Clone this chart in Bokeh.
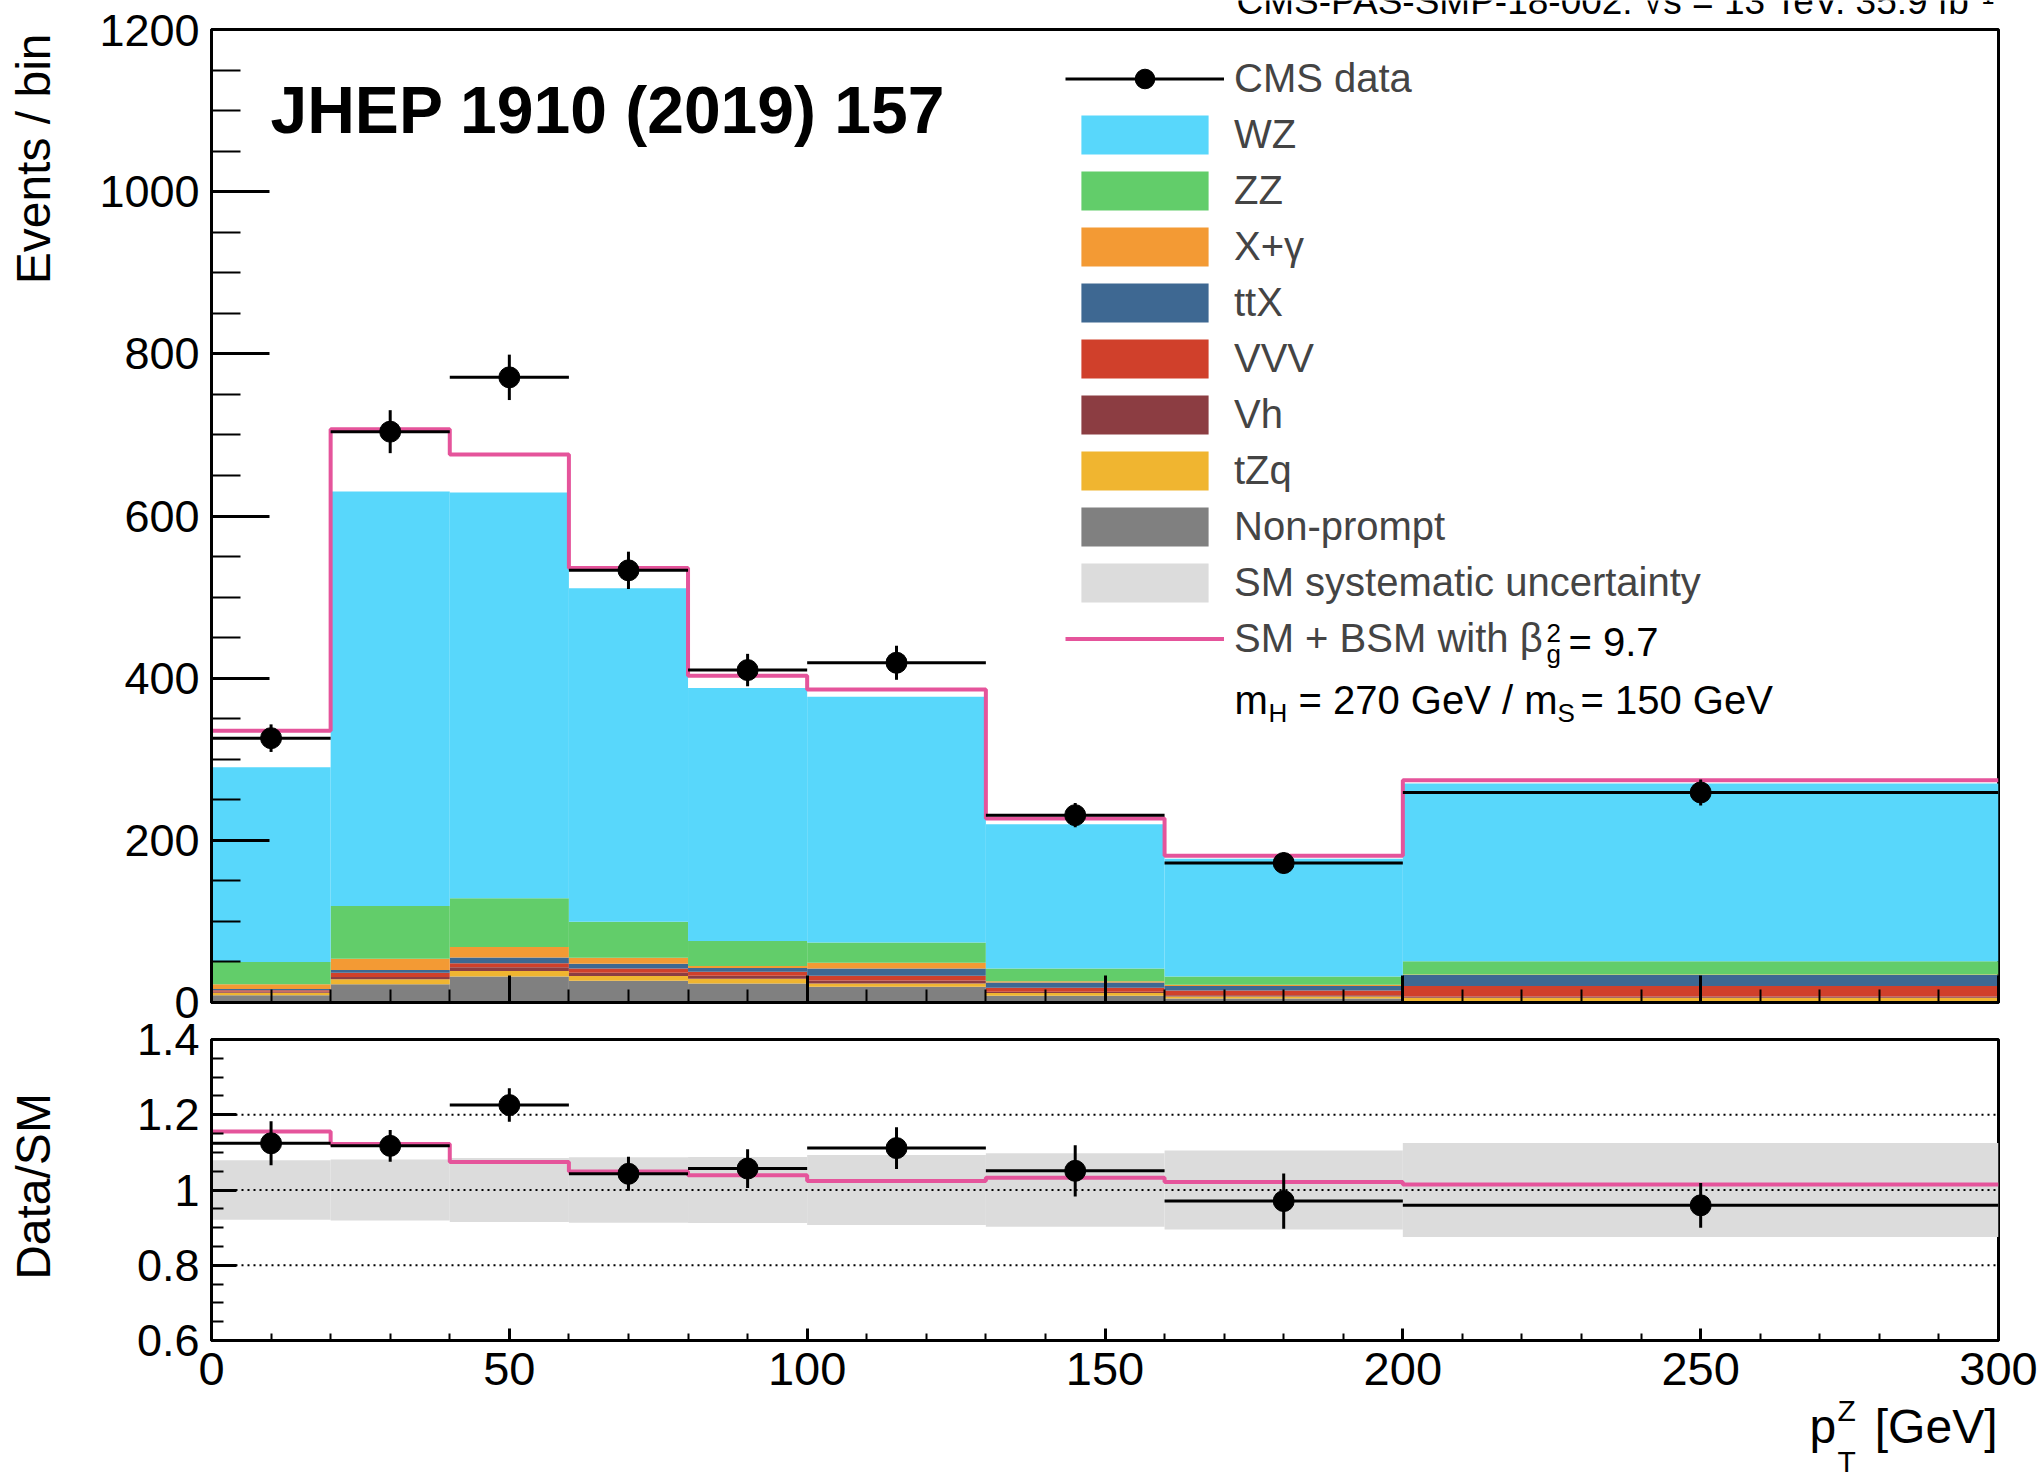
import numpy as np
from bokeh.plotting import figure
from bokeh.layouts import column, row
from bokeh.models import (ColumnDataSource, Legend, LegendItem, Label, Span,
                          FixedTicker, Range1d, PrintfTickFormatter)
from bokeh.embed import file_html
from bokeh.resources import INLINE

# ---------------- data ----------------
bin_edges = [0, 20, 40, 60, 80, 100, 130, 160, 200, 300]
data = [326, 704, 771, 533, 410, 419, 231, 172, 259]
data_err = [17, 26.5, 28, 23, 20, 21, 15, 13, 16]
wz = [240, 511, 500.5, 411.5, 312, 303, 178, 145, 219]
zz = [27.5, 65, 60, 44.3, 31, 25, 15.6, 10.2, 16.5]
xgamma = [6, 14, 13, 7.5, 2.5, 7, 1.5, 1.5, 0.5]
ttx = [1.5, 3.5, 7, 5.7, 4.5, 9, 6.5, 5.7, 13.5]
vvv = [1.5, 5, 5, 5.3, 5, 6, 5, 5.8, 13]
vh = [1.5, 3, 4.5, 4, 3.5, 3.6, 1.5, 1.6, 1.5]
tzq = [3, 6, 7, 6, 6, 4.1, 3.5, 2.5, 4]
nonprompt = [9, 22.6, 32, 26.7, 23.4, 19.3, 8.2, 4.9, 2]
sm_bsm = [335, 707, 676, 536, 403, 386, 227, 181, 274]
syst_rel = [0.079, 0.081, 0.085, 0.087, 0.088, 0.093, 0.098, 0.105, 0.125]

x_ticks = [0, 50, 100, 150, 200, 250, 300]
y_ticks = [0, 200, 400, 600, 800, 1000, 1200]
ratio_ticks = [0.6, 0.8, 1, 1.2, 1.4]

# ---------------- styling / geometry (page pixels) ----------------
FONT = "Liberation Sans"
C_WZ, C_ZZ, C_XG = "#58d7fb", "#62cd6a", "#f39a34"
C_TTX, C_VVV, C_VH = "#3e6892", "#d0402b", "#8c3d42"
C_TZQ, C_NP, C_SYST = "#f0b530", "#808080", "#dcdcdc"
C_PINK = "#e5549b"

PAGE_W, PAGE_H = 2044, 1477
TOP_STRIP = 14                   # strip holding the (cut) header line
LEFT_STRIP = 70                  # strip holding the y-axis titles
FL, FR = 211, 46                 # frame left / right (page)
M_TOP, M_BOT = 29, 1002          # main frame top / bottom
R_TOP, R_BOT = 1039, 1340        # ratio frame top / bottom
SPLIT = 1021                     # page y where main canvas ends
R_END = 1400                     # page y where ratio canvas ends
W = PAGE_W - LEFT_STRIP

lo = np.array(bin_edges[:-1], dtype=float)
hi = np.array(bin_edges[1:], dtype=float)
ctr = (lo + hi) / 2
d = np.array(data, dtype=float)
de = np.array(data_err, dtype=float)


def style(p, xmaj, xmin, ymaj, ymin):
    p.grid.visible = False
    p.outline_line_color = "black"
    p.outline_line_width = 3
    p.background_fill_color = "white"
    p.border_fill_color = "white"
    for ax, (mj, mn) in ((p.xaxis, (xmaj, xmin)), (p.yaxis, (ymaj, ymin))):
        ax.axis_line_width = 3
        ax.major_tick_line_width = 3
        ax.minor_tick_line_width = 2
        ax.major_tick_in = mj
        ax.major_tick_out = 0
        ax.minor_tick_in = mn
        ax.minor_tick_out = 0
        ax.major_label_text_font = FONT
        ax.major_label_text_font_size = "45px"
        ax.major_label_text_color = "black"
    p.yaxis.major_label_standoff = 12
    p.xaxis.major_label_standoff = 12
    p.xaxis.major_label_text_font_size = "47px"


def strip(width, height, x0, x1, y_top, y_bot, bl=0, br=0):
    """Axis-less figure for text; its frame maps page pixels [x0,x1] x [y_top,y_bot]."""
    s = figure(width=width, height=height, x_range=Range1d(x0, x1),
               y_range=Range1d(y_bot, y_top), x_axis_type=None, y_axis_type=None,
               output_backend="svg", toolbar_location=None,
               min_border_left=bl, min_border_right=br, min_border_top=0, min_border_bottom=0)
    s.grid.visible = False
    s.outline_line_color = None
    s.background_fill_color = "white"
    s.border_fill_color = "white"
    return s


def put(fig, text, px, py, size, align="left", angle=0, bold=False):
    fig.add_layout(Label(x=px, y=py, text=text, text_font=FONT, text_font_size=f"{size}px",
                         text_align=align, text_baseline="middle", angle=angle,
                         text_font_style="bold" if bold else "normal", text_color="black"))


# ---------------- main panel ----------------
p1 = figure(width=W, height=SPLIT - TOP_STRIP, x_range=Range1d(0, 300), y_range=Range1d(0, 1200),
            output_backend="svg", toolbar_location=None,
            min_border_left=FL - LEFT_STRIP, min_border_right=FR,
            min_border_top=M_TOP - TOP_STRIP, min_border_bottom=SPLIT - M_BOT)
style(p1, 27, 13, 58, 29)
p1.xaxis.ticker = FixedTicker(ticks=x_ticks, minor_ticks=list(range(0, 301, 10)))
p1.yaxis.ticker = FixedTicker(ticks=y_ticks, minor_ticks=list(range(0, 1201, 50)))
p1.xaxis.major_label_text_font_size = "1px"
p1.xaxis.major_label_text_color = None
p1.xaxis.major_label_standoff = 0

stack = [("Non-prompt", nonprompt, C_NP), ("tZq", tzq, C_TZQ), ("Vh", vh, C_VH),
         ("VVV", vvv, C_VVV), ("ttX", ttx, C_TTX), ("X+γ", xgamma, C_XG),
         ("ZZ", zz, C_ZZ), ("WZ", wz, C_WZ)]
bottom = np.zeros(len(lo))
rend = {}
for name, vals, col in stack:
    top = bottom + np.array(vals, dtype=float)
    src = ColumnDataSource(dict(left=lo, right=hi, bottom=bottom, top=top))
    rend[name] = p1.quad(left="left", right="right", bottom="bottom", top="top",
                         source=src, fill_color=col, line_color=None)
    bottom = top
sm_total = bottom
rel = np.array(syst_rel)

# legend proxy for the systematic band (zero-width, invisible in the plot)
syst_leg = p1.quad(left=ctr, right=ctr, bottom=sm_total * (1 - rel), top=sm_total * (1 + rel),
                   fill_color=C_SYST, line_color=None)

pink_main = p1.step(x=bin_edges, y=list(sm_bsm) + [sm_bsm[-1]], mode="after",
                    line_color=C_PINK, line_width=4)

src_d = ColumnDataSource(dict(lo=lo, hi=hi, x=ctr, y=d, ylo=d - de, yhi=d + de))
xerr = p1.segment(x0="lo", x1="hi", y0="y", y1="y", source=src_d, line_color="black", line_width=3)
p1.segment(x0="x", x1="x", y0="ylo", y1="yhi", source=src_d, line_color="black", line_width=3)
dash_leg = p1.scatter(x="x", y="y", source=src_d, marker="dash", angle=np.pi / 2, size=10,
                      line_color="black", line_width=3)
pts = p1.scatter(x="x", y="y", source=src_d, size=21, fill_color="black", line_color="black")

items = [LegendItem(label="CMS data", renderers=[xerr, dash_leg, pts])]
for name in ["WZ", "ZZ", "X+γ", "ttX", "VVV", "Vh", "tZq", "Non-prompt"]:
    items.append(LegendItem(label=name, renderers=[rend[name]]))
items.append(LegendItem(label="SM systematic uncertainty", renderers=[syst_leg]))
items.append(LegendItem(label="SM + BSM with β", renderers=[pink_main]))

GLYPH_W, GLYPH_H, SPACING = 159, 49, 7
leg_h = len(items) * GLYPH_H + (len(items) - 1) * SPACING
leg_top = 78 - GLYPH_H / 2                      # page y of legend top
legend = Legend(items=items,
                location=(1065 - FL, (M_BOT - M_TOP) - (leg_top - M_TOP) - leg_h),
                glyph_width=GLYPH_W, glyph_height=GLYPH_H, label_height=GLYPH_H,
                label_standoff=10, spacing=SPACING, padding=0, margin=0,
                label_text_font=FONT, label_text_font_size="40px",
                border_line_color=None, background_fill_alpha=0)
p1.add_layout(legend)


def lab_main(text, px, py, size, align="left", bold=False):
    """Text inside the main frame, placed by page pixel (vertical middle)."""
    p1.add_layout(Label(x=px - FL, y=M_BOT - py, x_units="screen", y_units="screen",
                        text=text, text_font=FONT, text_font_size=f"{size}px",
                        text_align=align, text_baseline="middle",
                        text_font_style="bold" if bold else "normal", text_color="black"))


# legend overlays (superscripts / subscripts)
lab_main("2", 1546, 632, 26)
lab_main("g", 1546, 653, 26)
lab_main("= 9.7", 1568, 641, 40)
lab_main("m", 1234, 699, 40)
lab_main("H", 1268, 712, 26)
lab_main("= 270 GeV / m", 1298, 699, 40)
lab_main("S", 1557, 712, 26)
lab_main("= 150 GeV", 1580, 699, 40)
lab_main("JHEP 1910 (2019) 157", 270, 109, 66, bold=True)

# ---------------- ratio panel ----------------
p2 = figure(width=W, height=R_END - SPLIT, x_range=p1.x_range, y_range=Range1d(0.6, 1.4),
            output_backend="svg", toolbar_location=None,
            min_border_left=FL - LEFT_STRIP, min_border_right=FR,
            min_border_top=R_TOP - SPLIT, min_border_bottom=R_END - R_BOT)
style(p2, 12, 7, 25, 12)
p2.xaxis.ticker = FixedTicker(ticks=x_ticks, minor_ticks=list(range(0, 301, 10)))
p2.yaxis.ticker = FixedTicker(ticks=ratio_ticks,
                              minor_ticks=[round(0.6 + 0.05 * i, 2) for i in range(17)])
p2.yaxis.formatter = PrintfTickFormatter(format="%g")

p2.quad(left=lo, right=hi, bottom=1 - rel, top=1 + rel, fill_color=C_SYST, line_color=None)
for yv in (0.8, 1.0, 1.2):
    p2.add_layout(Span(location=yv, dimension="width", line_color="black",
                       line_width=2, line_dash="2 4"))
ratio_bsm = np.array(sm_bsm) / sm_total
p2.step(x=bin_edges, y=list(ratio_bsm) + [ratio_bsm[-1]], mode="after",
        line_color=C_PINK, line_width=4)
r = d / sm_total
re = de / sm_total
src_r = ColumnDataSource(dict(lo=lo, hi=hi, x=ctr, y=r, ylo=r - re, yhi=r + re))
p2.segment(x0="lo", x1="hi", y0="y", y1="y", source=src_r, line_color="black", line_width=3)
p2.segment(x0="x", x1="x", y0="ylo", y1="yhi", source=src_r, line_color="black", line_width=3)
p2.scatter(x="x", y="y", source=src_r, size=21, fill_color="black", line_color="black")

# ---------------- text strips (page-pixel coordinates) ----------------
top_strip = strip(PAGE_W, TOP_STRIP, 0, PAGE_W, 0, TOP_STRIP)
put(top_strip, "CMS-PAS-SMP-18-002: √s = 13 TeV, 35.9 fb⁻¹", 1236, 1, 37)

left_strip = strip(LEFT_STRIP, PAGE_H - TOP_STRIP, 0, LEFT_STRIP, TOP_STRIP, PAGE_H)
put(left_strip, "Events / bin", 33, 33, 48, align="right", angle=np.pi / 2)
put(left_strip, "Data/SM", 33, 1186, 48, align="center", angle=np.pi / 2)

# the bottom strip sits in the same column as the panels, so its frame shares their edges
bottom_strip = strip(W, PAGE_H - R_END, FL, PAGE_W - FR, R_END, PAGE_H,
                     bl=FL - LEFT_STRIP, br=FR)
put(bottom_strip, "[GeV]", 1997, 1426, 48, align="right")
put(bottom_strip, "p", 1809, 1426, 48)
put(bottom_strip, "Z", 1837, 1410, 30)
put(bottom_strip, "T", 1837, 1461, 30)

layout = column(top_strip, row(left_strip, column(p1, p2, bottom_strip)))
open("out.html", "w").write(file_html(layout, INLINE))
